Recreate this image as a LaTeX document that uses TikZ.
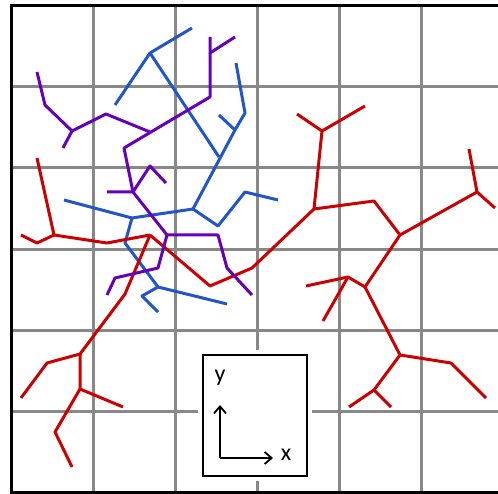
\documentclass[tikz,border=0pt]{standalone}
\usepackage{fontspec}
\usepackage{tikz}
\usetikzlibrary{arrows.meta}
\newfontfamily\labelfont{Carlito}
\definecolor{treeblue}{HTML}{2255CC}
\definecolor{treepurple}{HTML}{6600BB}
\definecolor{treered}{HTML}{CC0000}
\definecolor{gridgray}{HTML}{888888}
\tikzset{
  gridline/.style={draw=gridgray,line width=3pt},
  frameline/.style={draw=black,line width=3.5pt},
  branch/.style={line width=3pt,line join=round},
  bluebranch/.style={branch,draw=treeblue},
  purplebranch/.style={branch,draw=treepurple},
  redbranch/.style={branch,draw=treered},
  legendbox/.style={
    draw=black,fill=white,line width=2pt,
    preaction={draw=white,line width=10pt}
  },
  axislabel/.style={font=\labelfont\fontsize{24}{28}\selectfont,inner sep=0pt},
  axisarrow/.style={-{Straight Barb[length=7pt,width=12pt]},draw=black,line width=1.8pt}
}

\begin{document}
\begin{tikzpicture}[x=1pt,y=-1pt]
\useasboundingbox (0,0) rectangle (498,494);
\clip (0,0) rectangle (498,494);
% grid
\foreach \gx in {93.5,175.5,257.5,339.5,421.5}
  \draw[gridline] (\gx,5.3) -- (\gx,493);
\foreach \gy in {86.6,167.9,249.2,330.5,411.8}
  \draw[gridline] (11.5,\gy) -- (503,\gy);
\draw[frameline] (11.5,5.3) rectangle (503,493);

% axes legend
\draw[legendbox] (203,355) rectangle (307,476);
\coordinate (origin) at (220,458);
\coordinate (ytip) at (220,405);
\coordinate (xtip) at (273,458);
\draw[axisarrow] (origin) -- (ytip);
\draw[axisarrow] (origin) -- (xtip);
\node[axislabel] (ylabel) at (220,378) {y};
\node[axislabel] (xlabel) at (286,455) {x};

% blue tree
\draw[bluebranch] (115,105) -- (150,53) -- (192,28);
\draw[bluebranch] (150,53) -- (219,157);
\draw[bluebranch] (236,63) -- (245,113) -- (235,130) -- (193,209);
\draw[bluebranch] (219,115) -- (235,130);
\draw[bluebranch] (193,209) -- (218,226) -- (245,192) -- (278,200);
\draw[bluebranch] (64,200) -- (132,218) -- (193,209);
\draw[bluebranch] (132,218) -- (125,243) -- (158,287) -- (227,304);
\draw[bluebranch] (158,287) -- (142,296) -- (158,312);

% red tree
\draw[redbranch] (37,158) -- (54,235) -- (37,243) -- (21,235);
\draw[redbranch] (54,235) -- (107,243) -- (150,235);
\draw[redbranch] (150,235) -- (125,294) -- (80,354) -- (47,363) -- (21,398);
\draw[redbranch] (80,354) -- (80,389) -- (123,407);
\draw[redbranch] (80,389) -- (55,432) -- (72,467);
\draw[redbranch] (150,235) -- (210,286) -- (252,268) -- (314,209);
\draw[redbranch] (314,209) -- (322,131) -- (297,114);
\draw[redbranch] (322,131) -- (365,106);
\draw[redbranch] (314,209) -- (374,201) -- (400,235) -- (477,192) -- (469,149);
\draw[redbranch] (477,192) -- (495,208);
\draw[redbranch] (400,235) -- (365,287) -- (400,355) -- (451,363) -- (486,398);
\draw[redbranch] (365,287) -- (348,277) -- (306,286);
\draw[redbranch] (348,277) -- (323,321);
\draw[redbranch] (400,355) -- (374,390) -- (349,407);
\draw[redbranch] (374,390) -- (391,407);

% purple tree
\draw[purplebranch] (210,37) -- (210,53) -- (235,37);
\draw[purplebranch] (210,53) -- (210,97) -- (124,148) -- (133,192);
\draw[purplebranch] (150,132) -- (106,114) -- (72,131) -- (45,105) -- (37,72);
\draw[purplebranch] (72,131) -- (63,148);
\draw[purplebranch] (107,192) -- (133,192) -- (150,166) -- (166,183);
\draw[purplebranch] (133,192) -- (167,235) -- (218,235) -- (227,268) -- (252,295);
\draw[purplebranch] (167,235) -- (158,268) -- (115,278) -- (107,295);
\end{tikzpicture}
\end{document}
